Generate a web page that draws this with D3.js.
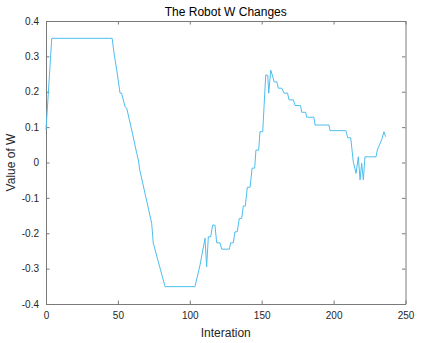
<!DOCTYPE html>
<html>
<head>
<meta charset="utf-8">
<script src="https://cdn.jsdelivr.net/npm/d3@7"></script>
<style>
  body { margin: 0; background: #fff; }
  svg { display: block; font-family: "Liberation Sans", Arial, sans-serif; }
</style>
</head>
<body>
<script>
// iteration index and W value
var iterations = [0, 4, 46, 47.3, 49.2, 51.5, 52.6, 54.9, 56.1, 59.6, 63.1, 64.2, 65.2,
  73.5, 74.6, 82.8, 103.6, 107.1, 110.6, 111.7, 112.9, 114.5, 115.9, 117.5, 118.7,
  121, 122.2, 127.5, 128.4, 130.3, 131.4, 133, 134.4, 136.1, 137.2, 138.6, 140, 141.9,
  143.3, 145.1, 146, 147.9, 148.8, 150.7, 152.8, 154.2, 154.9, 156.3, 157.4, 158.6,
  160.5, 161.5, 164, 165.5, 168, 169, 172, 173.2, 177, 177.8, 180.5, 181.3, 186.3,
  187.1, 196.8, 197.5, 208.6, 209.8, 211.9, 213.7, 215.6, 217.2, 218.4, 219.5, 220.7,
  221.8, 229.5, 230.4, 231.8, 233.4, 235, 236.2];
var wValues = [0.092, 0.351, 0.351, 0.309, 0.261, 0.196, 0.196, 0.158, 0.154, 0.092, 0.026, 0.007, -0.021,
  -0.172, -0.228, -0.351, -0.351, -0.29, -0.214, -0.295, -0.21, -0.21, -0.177, -0.177, -0.227,
  -0.227, -0.245, -0.245, -0.227, -0.227, -0.196, -0.196, -0.158, -0.158, -0.123, -0.123, -0.07, -0.07,
  -0.016, -0.016, 0.035, 0.035, 0.087, 0.087, 0.247, 0.247, 0.196, 0.261, 0.247, 0.228,
  0.228, 0.21, 0.21, 0.196, 0.196, 0.177, 0.177, 0.161, 0.161, 0.142, 0.142, 0.128, 0.128,
  0.106, 0.106, 0.09, 0.09, 0.07, 0.07, 0.002, -0.031, 0.016, -0.049, -0.002, -0.049,
  0.016, 0.016, 0.035, 0.049, 0.064, 0.087, 0.073];

var xTicks = [0, 50, 100, 150, 200, 250];
var yTicks = [-0.4, -0.3, -0.2, -0.1, 0, 0.1, 0.2, 0.3, 0.4];

var W = 421, H = 343;
var margin = { top: 21, right: 15.5, bottom: 39, left: 46 };
var iw = W - margin.left - margin.right, ih = H - margin.top - margin.bottom;

var svg = d3.select("body").append("svg").attr("width", W).attr("height", H);
var g = svg.append("g").attr("transform", "translate(" + margin.left + "," + margin.top + ")");

var x = d3.scaleLinear().domain([0, 250]).range([0, iw]);
var y = d3.scaleLinear().domain([-0.4, 0.4]).range([ih, 0]);

var axisColor = "#7a7a7a", textColor = "#262626";
var yFmt = function (d) { return d === 0 ? "0" : d3.format(".1f")(d).replace("\u2212", "-"); };

function styleAxis(sel, showText) {
  sel.select(".domain").attr("stroke", axisColor);
  sel.selectAll(".tick line").attr("stroke", axisColor);
  sel.selectAll(".tick text").attr("fill", textColor).style("font-size", "10px")
    .style("display", showText ? null : "none");
}

// bottom / left with labels, top / right plain ticks
g.append("g").attr("transform", "translate(0," + ih + ")")
  .call(d3.axisBottom(x).tickValues(xTicks).tickSizeInner(-3.5).tickSizeOuter(0).tickPadding(8))
  .call(styleAxis, true);
g.append("g")
  .call(d3.axisLeft(y).tickValues(yTicks).tickFormat(yFmt).tickSizeInner(-3.5).tickSizeOuter(0).tickPadding(7))
  .call(styleAxis, true);
g.append("g")
  .call(d3.axisTop(x).tickValues(xTicks).tickSizeInner(-3.5).tickSizeOuter(0))
  .call(styleAxis, false);
g.append("g").attr("transform", "translate(" + iw + ",0)")
  .call(d3.axisRight(y).tickValues(yTicks).tickSizeInner(-3.5).tickSizeOuter(0))
  .call(styleAxis, false);

var pts = iterations.map(function (d, i) { return [d, wValues[i]]; });
g.append("path")
  .datum(pts)
  .attr("fill", "none")
  .attr("stroke", "#4DBEEE")
  .attr("stroke-width", 1)
  .attr("stroke-linejoin", "round")
  .attr("d", d3.line().x(function (d) { return x(d[0]); }).y(function (d) { return y(d[1]); }));

svg.append("text")
  .attr("x", margin.left + iw / 2).attr("y", 16)
  .attr("text-anchor", "middle").attr("fill", "#000").style("font-size", "12px")
  .text("The Robot W Changes");

svg.append("text")
  .attr("x", margin.left + iw / 2).attr("y", 337)
  .attr("text-anchor", "middle").attr("fill", textColor).style("font-size", "12px")
  .text("Interation");

svg.append("text")
  .attr("transform", "translate(15," + (margin.top + ih / 2) + ") rotate(-90)")
  .attr("text-anchor", "middle").attr("fill", textColor).style("font-size", "12px")
  .text("Value of W");
</script>
</body>
</html>
